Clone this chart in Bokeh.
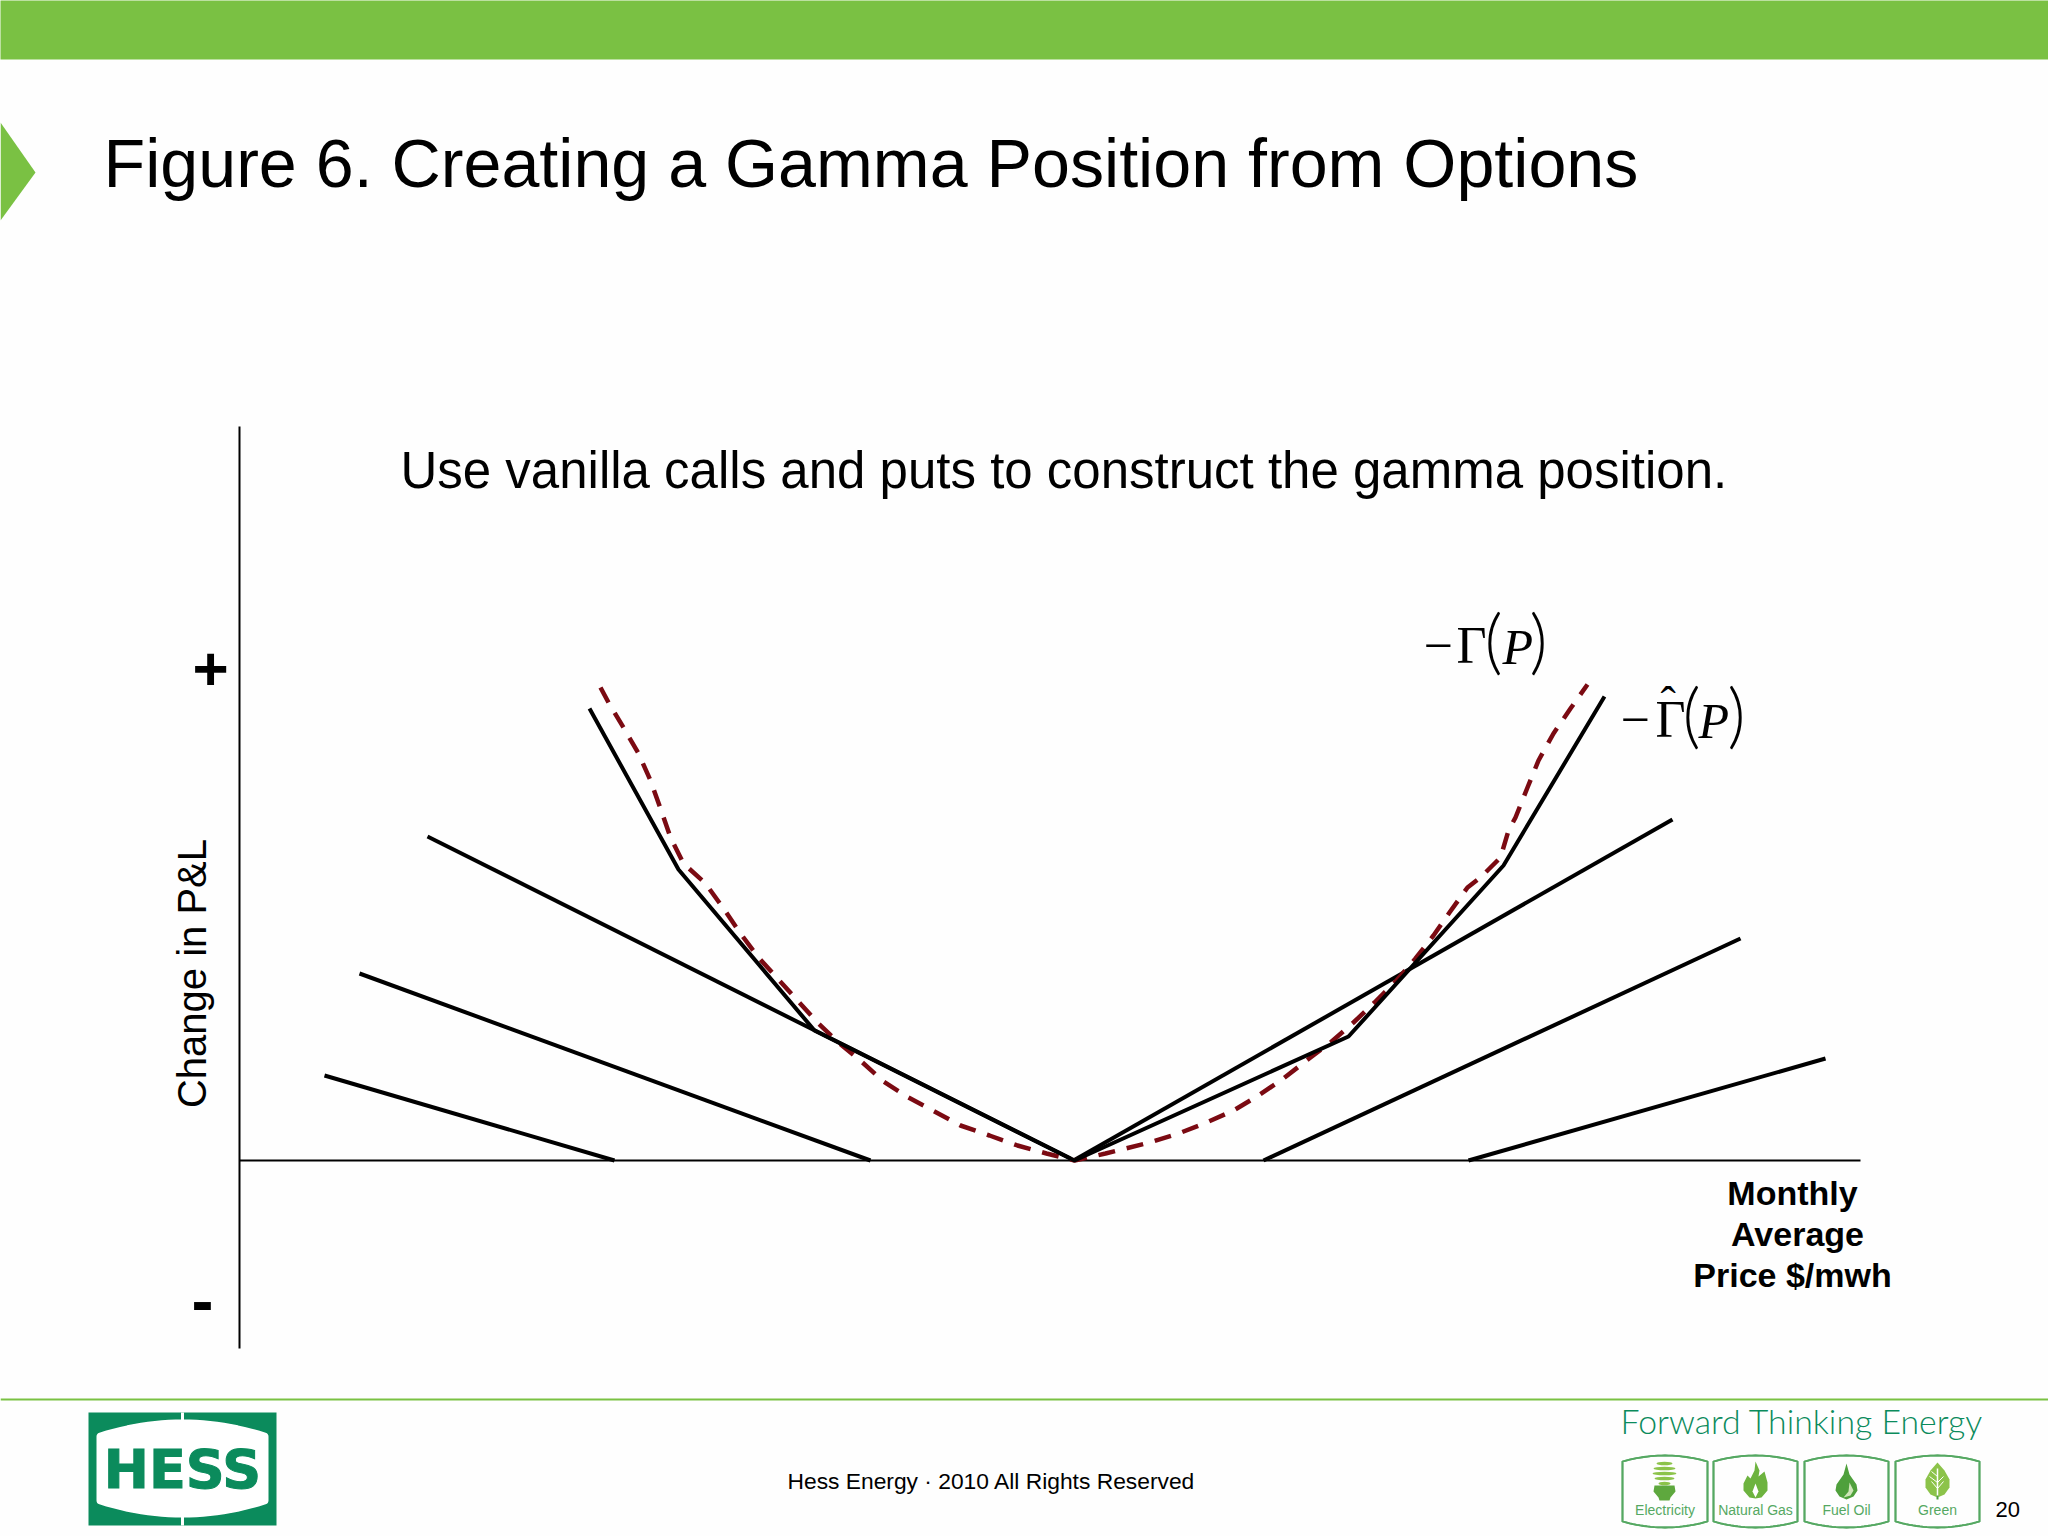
import math
from bokeh.plotting import figure
from bokeh.models import Range1d
from bokeh.core.properties import value
from bokeh.embed import file_html
from bokeh.resources import INLINE

# ---- chart data (x = price, y = change in P&L, page scale) ----
baseline_y = 1160
vertex_x = 1074
put_far_x = [324, 614];   put_far_y = [1075, baseline_y]
put_mid_x = [359, 870];   put_mid_y = [973, baseline_y]
put_near_x = [427, 1070]; put_near_y = [836, 1158]
call_near_x = [1073, 1672]; call_near_y = [baseline_y, 819]
call_mid_x = [1263, 1740];  call_mid_y = [baseline_y, 938]
call_far_x = [1468, 1825];  call_far_y = [baseline_y, 1058]
approx_x = [589, 678, 814, 1074, 1348, 1503, 1604]
approx_y = [708, 869, 1030, 1160, 1036, 865, 696]
gamma_x = [600, 608, 623, 638, 650, 660, 670, 683, 705, 723, 740, 758, 777, 797, 817, 838, 862,
           883, 908, 960, 989, 1017, 1046, 1074, 1105, 1149, 1178, 1206, 1233, 1258, 1283, 1306,
           1330, 1353, 1374, 1396, 1415, 1433, 1449, 1467, 1480, 1490, 1500, 1508, 1515, 1527,
           1538, 1553, 1570, 1587]
gamma_y = [687, 702, 727, 753, 780, 808, 837, 863, 883, 908, 933, 957, 978, 1000, 1022, 1042, 1062,
           1081, 1097, 1125, 1135, 1145, 1153, 1160, 1153, 1142, 1133, 1122, 1110, 1095, 1078, 1060,
           1042, 1022, 1002, 980, 958, 935, 912, 887, 877, 867, 857, 830, 817, 787,
           760, 733, 708, 684]
title = "Figure 6. Creating a Gamma Position from Options"
subtitle = "Use vanilla calls and puts to construct the gamma position."
y_label = "Change in P&L"
x_label = ["Monthly", "Average", "Price $/mwh"]
footer = "Hess Energy \u00b7 2010 All Rights Reserved"
icon_labels = ["Electricity", "Natural Gas", "Fuel Oil", "Green"]

GREEN = "#7AC143"
DARK = "#0B8B5C"
RED = "#7B0A12"
ICON = "#55A862"
SANS = value("Liberation Sans")
SERIF = value("Liberation Serif")
THIN = value("Lato Light")

p = figure(width=2048, height=1536, x_range=Range1d(0, 2048), y_range=Range1d(1536, 0),
           output_backend="svg", toolbar_location=None, min_border=0)
p.styles = {"position": "absolute", "left": "0px", "top": "0px"}
p.axis.visible = False
p.grid.visible = False
p.outline_line_color = None
p.background_fill_color = "#FEFEFE"
p.border_fill_color = "#FEFEFE"


def txt(x, y, s, size, font=SANS, color="black", style="normal", align="left", angle=0, outline=None):
    # the svg backend sets an alphabetic baseline about 0.36 em low: compensate
    if angle:
        x -= 0.36 * size
    else:
        y -= 0.36 * size
    p.text([x], [y], text=[s], text_font=font, text_font_size=f"{size}px", text_color=color,
           text_font_style=style, text_align=align, text_baseline="alphabetic", angle=angle,
           text_outline_color=outline)


def barrel(x0, x1, y0, y1, bow, n=24):
    """closed outline with bowed top and bottom edges"""
    xs, ys = [], []
    for i in range(n + 1):
        t = i / n
        xs.append(x0 + (x1 - x0) * t)
        ys.append(y0 + bow - bow * 4 * t * (1 - t))
    for i in range(n + 1):
        t = i / n
        xs.append(x1 - (x1 - x0) * t)
        ys.append(y1 - bow + bow * 4 * t * (1 - t))
    return xs, ys


# page furniture
p.quad(left=[-2], right=[2050], top=[-2], bottom=[59], fill_color=GREEN, line_color=None)
p.patch([0, 35, 0], [122, 172, 220], fill_color=GREEN, line_color=None)
p.line([0, 2048], [1399, 1399], line_color=GREEN, line_width=2)

# texts
txt(103, 187, title, 68.2)
txt(400, 488, subtitle, 51)
txt(206, 973, y_label, 40, align="center", angle=math.pi / 2)
txt(210, 691, "+", 62, style="bold", align="center")
txt(202, 1323, "-", 66, style="bold", align="center")
for s, cx, by in zip(x_label, [1792, 1797, 1792], [1205, 1246, 1287]):
    txt(cx, by, s, 34, style="bold", align="center")
txt(991, 1489, footer, 22.8, align="center")
txt(1995, 1517, "20", 22)

# axes
p.line([239, 239], [426, 1348], line_color="black", line_width=2)
p.line([239, 1860], [baseline_y, baseline_y], line_color="black", line_width=2)

# payoffs
for xs, ys in [(put_far_x, put_far_y), (put_mid_x, put_mid_y), (put_near_x, put_near_y),
               (call_near_x, call_near_y), (call_mid_x, call_mid_y), (call_far_x, call_far_y)]:
    p.line(xs, ys, line_color="black", line_width=4)
p.line(gamma_x, gamma_y, line_color=RED, line_width=4.5, line_dash="17 12")
p.line(approx_x, approx_y, line_color="black", line_width=4)

# math labels
txt(1423, 664, "\u2212", 52, font=SERIF)
txt(1456, 664, "\u0393", 52, font=SERIF)
txt(1484, 664, "(", 70, font=THIN)
txt(1502, 664, "P", 50, font=SERIF, style="italic")
txt(1529, 664, ")", 70, font=THIN)
txt(1620, 738, "\u2212", 52, font=SERIF)
txt(1655, 738, "\u0393", 52, font=SERIF)
txt(1660, 720, "\u02c6", 46, font=SERIF)
txt(1682, 738, "(", 70, font=THIN)
txt(1698, 738, "P", 50, font=SERIF, style="italic")
txt(1727, 738, ")", 70, font=THIN)

# HESS logo
p.quad(left=[88], right=[276], top=[1412], bottom=[1525], fill_color=DARK, line_color=None)
xs, ys = barrel(100, 264, 1423, 1513, 13)
p.patch(xs, ys, fill_color="white", line_color="white", line_width=8, line_join="round")
p.line([182, 182], [1412, 1525], line_color="white", line_width=3)
txt(182, 1488, "HESS", 54, font=value("DejaVu Sans"), color=DARK, style="bold", align="center", outline=DARK)

# strap line and icons
txt(1620, 1433, "Forward Thinking Energy", 33.8, font=value("Lato Light"), color=DARK)
boxes = [(1622, 1707), (1713, 1797), (1804, 1888), (1895, 1979)]
for (x0, x1), lab in zip(boxes, icon_labels):
    xs, ys = barrel(x0, x1, 1455, 1527, 6)
    p.patch(xs, ys, fill_color=None, line_color=ICON, line_width=1.8, line_join="round")
    p.patch(xs, ys, fill_color=None, line_color=ICON, line_width=1.8, line_join="round")
    txt((x0 + x1) / 2, 1515, lab, 14, color=ICON, align="center")

# bulb
for cy, w in [(1463, 16), (1468, 22), (1473, 24), (1478, 20), (1483, 12)]:
    p.ellipse([1664], [cy], width=[w], height=[3.5], fill_color="#8CC34A", line_color=None)
p.patch([1654, 1674, 1675, 1670, 1669, 1659, 1658, 1653], [1485, 1485, 1491, 1497, 1500, 1500, 1497, 1491],
        fill_color="#5EA83E", line_color=None)
# flame
fx = [1755, 1759, 1758, 1764, 1767, 1767, 1761, 1755, 1749, 1743, 1743, 1747, 1750, 1754]
fy = [1461, 1470, 1476, 1471, 1482, 1490, 1497, 1498, 1497, 1490, 1483, 1475, 1478, 1470]
p.patch(fx, fy, fill_color="#6DB33F", line_color=None)
p.patch([1755, 1758, 1755, 1752], [1483, 1491, 1497, 1491], fill_color="white", line_color=None)
# drop
dx = [1846, 1849, 1856, 1857, 1853, 1846, 1839, 1835, 1836, 1843]
dy = [1463, 1474, 1484, 1490, 1496, 1499, 1496, 1490, 1484, 1474]
p.patch(dx, dy, fill_color="#4FA03C", line_color=None)
p.patch([1849, 1853, 1850, 1843, 1848], [1482, 1490, 1495, 1497, 1491], fill_color="#CFE6B8", line_color=None)
# leaf
lx = [1937, 1944, 1949, 1949, 1944, 1937, 1930, 1925, 1925, 1930]
ly = [1462, 1470, 1479, 1487, 1494, 1497, 1494, 1487, 1479, 1470]
p.patch(lx, ly, fill_color="#8CC34A", line_color=None)
p.segment([1937, 1937, 1937, 1937, 1937], [1476, 1482, 1488, 1482, 1488],
          [1931, 1929, 1943, 1943, 1931], [1471, 1476, 1481, 1476, 1481], line_color="white", line_width=1)
p.line([1937, 1937], [1468, 1499], line_color="white", line_width=1.5)
p.line([1937, 1937], [1495, 1499], line_color="#4FA03C", line_width=2)

open("out.html", "w").write(file_html(p, INLINE))
